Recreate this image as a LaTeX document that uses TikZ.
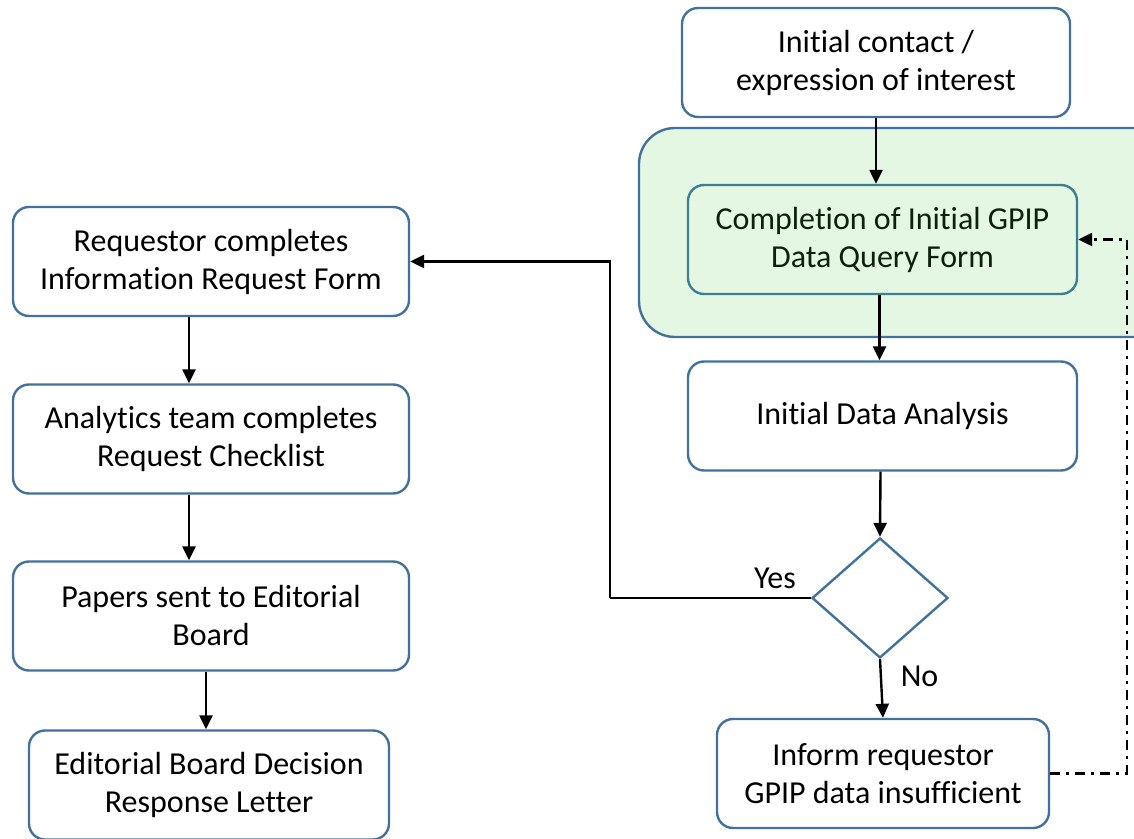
\documentclass[tikz,border=0pt]{standalone}
\usepackage{fontspec}
\setmainfont{Carlito}[RawFeature=-liga]
\usetikzlibrary{shapes.geometric,arrows.meta}

\definecolor{boxblue}{HTML}{41719C}
\definecolor{formedge}{HTML}{3E7E94}
\definecolor{groupgreen}{HTML}{E4F7E3}
\definecolor{formtext}{HTML}{0C200C}

\tikzset{
  box/.style={draw=boxblue, line width=1.2pt, rounded corners=8pt, fill=white,
    align=center, font=\fontsize{16}{19}\selectfont, minimum height=54.5pt},
  group/.style={draw=boxblue, line width=1.2pt, rounded corners=18pt, fill=groupgreen},
  choice/.style={diamond, draw=boxblue, line width=1.2pt, fill=white, inner sep=0pt,
    minimum width=68pt, minimum height=60pt},
  arrow/.style={-{Triangle[length=7pt,width=6.5pt]}, line width=1.2pt},
  loop/.style={arrow, dash pattern=on 5pt off 3pt on 1.5pt off 3pt},
  tag/.style={font=\fontsize{16}{19}\selectfont}
}

\begin{document}
\begin{tikzpicture}[x=0.5pt, y=-0.5pt]
  \useasboundingbox (0,0) rectangle (1134,839);

  % Green group behind the form
  \node[group, minimum width=265.5pt, minimum height=104.5pt] (grp) at (904.5,232.5) {};

  % Right column
  \node[box, minimum width=194pt] (contact) at (876,62.5) {Initial contact /\\expression of interest};
  \node[box, minimum width=194.5pt, fill=groupgreen, draw=formedge, text=formtext] (form) at (882.5,239.5) {Completion of Initial GPIP\\Data Query Form};
  \node[box, minimum width=194.5pt] (analysis) at (882.5,416) {Initial Data Analysis};
  \node[choice] (decision) at (880,598) {};
  \node[box, minimum width=166pt] (inform) at (883,773.5) {Inform requestor\\GPIP data insufficient};

  % Left column
  \node[box, minimum width=198pt] (request) at (211,261.5) {Requestor completes\\Information Request Form};
  \node[box, minimum width=198pt] (checklist) at (211,439) {Analytics team completes\\Request Checklist};
  \node[box, minimum width=198pt] (papers) at (211,616) {Papers sent to Editorial\\Board};
  \node[box, minimum width=180pt] (letter) at (209,785) {Editorial Board Decision\\Response Letter};

  % Turning points
  \coordinate (yesturn) at (610,598);
  \coordinate (loopturn) at (1127,773.5);

  % Right column arrows
  \draw[arrow] (contact.south) -- (contact.south |- form.north);
  \draw[arrow] ([xshift=-1.5pt]form.south) -- ([xshift=-1.5pt]analysis.north);
  \draw[arrow] ([xshift=-1pt]analysis.south) -- (decision.north);
  \draw[arrow] (decision.south) -- node[tag, pos=0.3, right=6pt] {No} (inform.north);

  % Yes branch and loop back
  \draw[line width=1.2pt] (decision.west) -- (yesturn);
  \draw[arrow] (yesturn) |- (request.east);
  \node[tag, anchor=south east, xshift=-4pt, yshift=1pt] (yes) at (decision.west) {Yes};
  \draw[loop] (inform.east) -- (loopturn) |- (form.east);

  % Left column arrows
  \draw[arrow] ([xshift=-11pt]request.south) -- ([xshift=-11pt]checklist.north);
  \draw[arrow] ([xshift=-11pt]checklist.south) -- ([xshift=-11pt]papers.north);
  \draw[arrow] ([xshift=-2.5pt]papers.south) -- ([xshift=-1.5pt]letter.north);
\end{tikzpicture}
\end{document}
